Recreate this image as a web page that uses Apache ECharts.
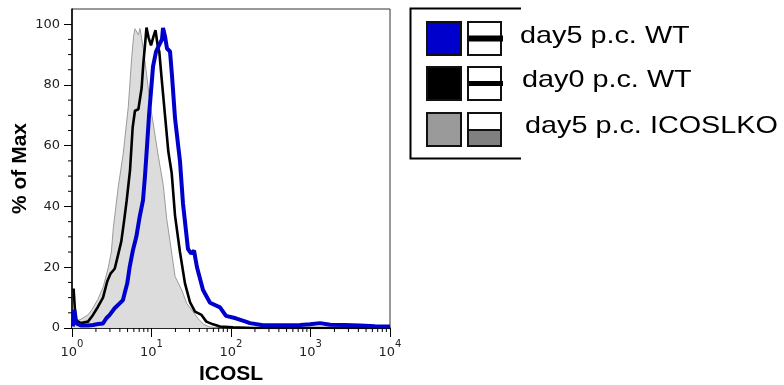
<!DOCTYPE html>
<html>
<head>
<meta charset="utf-8">
<script src="https://cdn.jsdelivr.net/npm/echarts@6/dist/echarts.min.js"></script>
<style>
html,body{margin:0;padding:0;background:#fff;}
#chart{width:784px;height:385px;}
</style>
</head>
<body>
<div id="chart"></div>
<script>
// x values are log10(ICOSL intensity), y values are % of Max
const seriesNames = ['day5 p.c. WT', 'day0 p.c. WT', 'day5 p.c. ICOSLKO'];
const xTickExponents = [0, 1, 2, 3, 4];
const yMajorTicks = [0, 20, 40, 60, 80, 100];
const yMinorTicks = [5, 10, 15, 25, 30, 35, 45, 50, 55, 65, 70, 75, 85, 90, 95];
const logMinorFactors = [2, 3, 4, 5, 6, 7, 8, 9];
const logDecades = [0, 1, 2, 3];

const day5WT = [[0.01,0.5],[0.03,6],[0.055,1.5],[0.118,0.8],[0.2,0.8],[0.264,1],[0.327,1.3],[0.39,1.5],[0.432,3.2],[0.474,4.3],[0.536,6.5],[0.599,8.1],[0.641,9.2],[0.662,11.4],[0.695,14.7],[0.725,20],[0.767,25.7],[0.809,30],[0.851,36.6],[0.893,42],[0.918,50],[0.943,59.6],[0.969,70],[1.019,86],[1.057,91],[1.094,93],[1.132,95],[1.145,98.8],[1.17,96],[1.195,92],[1.233,91],[1.258,83],[1.296,69],[1.358,55],[1.396,41],[1.459,26],[1.5,24.5],[1.535,25.5],[1.572,20],[1.648,12.5],[1.736,8.3],[1.862,6.8],[1.937,4],[2.06,3.2],[2.176,2.2],[2.239,1.6],[2.403,0.9],[2.616,0.9],[2.868,1.0],[2.994,1.2],[3.12,1.6],[3.25,1.1],[3.434,1.0],[3.623,0.8],[3.811,0.6],[4.0,0.5]];

const day0WT = [[0.02,13],[0.045,2.6],[0.113,1.6],[0.201,2.1],[0.264,4.3],[0.327,7],[0.39,10],[0.445,15.5],[0.487,18],[0.537,19.5],[0.579,24],[0.62,28.5],[0.654,35],[0.688,42],[0.73,52],[0.763,66],[0.792,71.5],[0.835,72],[0.876,79],[0.897,87],[0.918,93],[0.937,98.9],[0.964,95.5],[0.994,93],[1.025,96],[1.05,98],[1.078,93],[1.098,91],[1.128,82],[1.17,70],[1.212,58],[1.254,51],[1.296,37],[1.358,25],[1.421,14.7],[1.484,8.5],[1.547,5.4],[1.629,4.3],[1.69,2.1],[1.774,1.2],[1.862,0.5],[2.025,0.2],[2.277,0],[4,0]];

const day5KO = [[0,2.5],[0.1,2.7],[0.2,4.3],[0.25,6],[0.327,9.5],[0.394,13.6],[0.457,20],[0.495,25],[0.52,33],[0.582,46.5],[0.645,57.5],[0.708,72.8],[0.751,89],[0.775,96],[0.792,98.5],[0.815,98.6],[0.835,96.5],[0.855,98.6],[0.897,92],[0.94,83],[0.981,74],[1.023,67],[1.086,56.5],[1.148,47],[1.191,36],[1.233,28.5],[1.296,17],[1.38,12.5],[1.443,8.1],[1.526,5.2],[1.589,3],[1.652,1.3],[1.723,0.4],[1.85,0],[4,0]];

// minor tick positions (kind 0 = x axis, kind 1 = y axis)
const minorTickData = [];
logDecades.forEach(d => logMinorFactors.forEach(k => minorTickData.push([d + Math.log10(k), 0, 0])));
yMinorTicks.forEach(v => minorTickData.push([0, v, 1]));

const chart = echarts.init(document.getElementById('chart'), null, {renderer: 'canvas'});

const labelFont = 'DejaVu Sans';
const titleFont = 'Liberation Sans';

function legendRow(y, fillColor, lineKind, text, textX, textY) {
  const els = [
    {type: 'rect', shape: {x: 427, y: y, width: 34, height: 33}, style: {fill: fillColor, stroke: '#111', lineWidth: 2}},
    {type: 'rect', shape: {x: 468, y: y, width: 33, height: 33}, style: {fill: '#fff', stroke: '#111', lineWidth: 2}}
  ];
  if (lineKind === 'thick') {
    els.push({type: 'rect', shape: {x: 469, y: y + 13.5, width: 34, height: 6}, style: {fill: '#000'}});
  } else if (lineKind === 'mid') {
    els.push({type: 'rect', shape: {x: 469, y: y + 14, width: 34, height: 5}, style: {fill: '#000'}});
  } else {
    els.push({type: 'rect', shape: {x: 469, y: y + 17, width: 31, height: 15}, style: {fill: '#808080'}});
    els.push({type: 'line', shape: {x1: 468, y1: y + 17, x2: 501, y2: y + 17}, style: {stroke: '#111', lineWidth: 2}});
  }
  els.push({type: 'text', x: textX, y: textY, scaleX: 1.2, scaleY: 1,
    style: {text: text, fontSize: 24, fontFamily: titleFont, fill: '#000', textAlign: 'left', textVerticalAlign: 'middle'}});
  return els;
}

const graphicEls = [
  {type: 'polyline', shape: {points: [[521, 8.5], [410.5, 8.5], [410.5, 158.5], [521, 158.5]]}, style: {stroke: '#000', lineWidth: 2, fill: null}}
].concat(
  legendRow(22, '#0000cc', 'thick', seriesNames[0], 520, 36),
  legendRow(67, '#000000', 'mid', seriesNames[1], 522, 80),
  legendRow(113, '#9a9a9a', 'fill', seriesNames[2], 525, 126)
);

const option = {
  animation: false,
  backgroundColor: '#fff',
  grid: {left: 72, right: 394, top: 9, bottom: 57, containLabel: false, outerBoundsMode: 'none',
    show: true, borderColor: '#333', borderWidth: 1, backgroundColor: 'transparent'},
  xAxis: {
    type: 'value', min: 0, max: 4, interval: 1,
    name: 'ICOSL', nameLocation: 'middle', nameGap: 33,
    nameTextStyle: {fontFamily: titleFont, fontWeight: 'bold', fontSize: 21, color: '#000'},
    axisLine: {onZero: false, lineStyle: {color: '#000', width: 1.5}},
    axisTick: {length: 9, lineStyle: {color: '#000', width: 1}},
    splitLine: {show: false},
    axisLabel: {
      margin: 11, color: '#222',
      formatter: v => '{b|10}{s|' + xTickExponents[Math.round(v)] + '}',
      rich: {
        b: {fontFamily: labelFont, fontSize: 13, color: '#222', verticalAlign: 'bottom', lineHeight: 20},
        s: {fontFamily: labelFont, fontSize: 10, color: '#222', verticalAlign: 'top', lineHeight: 11}
      }
    }
  },
  yAxis: {
    type: 'value', min: 0, max: 105, interval: 20,
    name: '% of Max', nameLocation: 'middle', nameGap: 41, nameRotate: 90,
    nameTextStyle: {fontFamily: titleFont, fontWeight: 'bold', fontSize: 21, color: '#000'},
    axisLine: {show: true, onZero: false, lineStyle: {color: '#000', width: 1.5}},
    axisTick: {show: true, length: 8, customValues: yMajorTicks, lineStyle: {color: '#000', width: 1}},
    splitLine: {show: false},
    axisLabel: {margin: 12, customValues: yMajorTicks, fontFamily: labelFont, fontSize: 13, color: '#222'}
  },
  graphic: {elements: graphicEls},
  series: [
    {name: seriesNames[2], type: 'line', data: day5KO, showSymbol: false, symbol: 'none',
      lineStyle: {color: '#9a9a9a', width: 1}, areaStyle: {color: '#dcdcdc', opacity: 1}, z: 2},
    {name: seriesNames[1], type: 'line', data: day0WT, showSymbol: false, symbol: 'none',
      lineStyle: {color: '#000', width: 2.6}, z: 3},
    {name: seriesNames[0], type: 'line', data: day5WT, showSymbol: false, symbol: 'none',
      lineStyle: {color: '#0000cc', width: 4}, z: 4},
    {type: 'custom', data: minorTickData, clip: false, silent: true, z: 5,
      renderItem: (params, api) => {
        const kind = api.value(2);
        const p = api.coord([api.value(0), api.value(1)]);
        if (kind === 0) {
          return {type: 'line', shape: {x1: p[0], y1: p[1], x2: p[0], y2: p[1] + 4}, style: {stroke: '#000', lineWidth: 1}};
        }
        return {type: 'line', shape: {x1: p[0] - 4, y1: p[1], x2: p[0], y2: p[1]}, style: {stroke: '#000', lineWidth: 1}};
      }
    }
  ]
};
chart.setOption(option);
</script>
</body>
</html>
